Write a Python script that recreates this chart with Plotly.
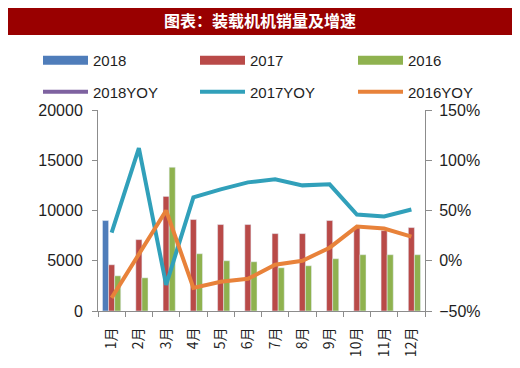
import plotly.graph_objects as go

months = ["1月", "2月", "3月", "4月", "5月", "6月", "7月", "8月", "9月", "10月", "11月", "12月"]
sales_2018 = [9000, None, None, None, None, None, None, None, None, None, None, None]
sales_2017 = [4600, 7100, 11400, 9100, 8600, 8600, 7700, 7700, 9000, 8300, 8000, 8300]
sales_2016 = [3500, 3300, 14300, 5700, 5000, 4900, 4300, 4500, 5200, 5600, 5600, 5600]
yoy_2018 = [None] * 12
yoy_2017 = [28, 112, -24, 63, 71, 78, 81, 75, 76, 46, 44, 51]
yoy_2016 = [-37, 6, 50, -27, -21, -18, -4, 0, 13, 34, 32, 24]

C18, C17, C16 = "#4F7DBA", "#B94A48", "#8FB24F"
CY18, CY17, CY16 = "#7E62A0", "#31A0BA", "#E8823A"
AX = "#8C8C8C"
FONT = "Liberation Sans"
TXT = "#1E1E1E"

# page body has an 8px margin, so the figure is laid out 8px smaller
W, H = 512, 360
L, R, T, B = 90, 95, 102, 57
PW, PH = W - L - R, H - T - B

fig = go.Figure()
legends = ["legend", "legend2", "legend3"]
for i, (name, vals, col) in enumerate([("2018", sales_2018, C18), ("2017", sales_2017, C17),
                                       ("2016", sales_2016, C16)]):
    fig.add_trace(go.Bar(x=months, y=vals, name=name, marker_color=col, showlegend=False))
    # legend entry drawn as a wide swatch
    fig.add_trace(go.Scatter(x=[None], y=[None], name=name, mode="lines",
                             line=dict(color=col, width=9), legendgroup="b" + name,
                             legend=legends[i]))

for i, (name, vals, col) in enumerate([("2018YOY", yoy_2018, CY18), ("2017YOY", yoy_2017, CY17),
                                       ("2016YOY", yoy_2016, CY16)]):
    fig.add_trace(go.Scatter(x=months, y=vals, name=name, mode="lines", yaxis="y2",
                             line=dict(color=col, width=4), legendgroup="l" + name,
                             legend=legends[i]))


def leg(px_x):
    return dict(orientation="v", xanchor="left", yanchor="top",
                x=(px_x - L) / PW, y=(H - B - 36) / PH,
                traceorder="grouped", tracegroupgap=9, itemwidth=45,
                font=dict(size=15, color=TXT), bgcolor="rgba(0,0,0,0)", borderwidth=0)


fig.update_layout(
    width=W, height=H,
    margin=dict(l=L, r=R, t=T, b=B, autoexpand=False),
    paper_bgcolor="white", plot_bgcolor="white",
    barmode="group", bargap=0.33, bargroupgap=0,
    font=dict(family=FONT, size=14, color=TXT),
    title=dict(text="<b>图表：装载机机销量及增速</b>", x=(252 - L) / PW, xanchor="center",
               xref="paper", y=1 - 13 / H, yref="container", yanchor="middle",
               font=dict(family="Noto Sans CJK SC", size=16, color="white")),
    xaxis=dict(showline=True, linecolor=AX, ticks="outside", tickcolor=AX, ticklen=5,
               tickson="boundaries", tickangle=-90, showgrid=False, ticklabelstandoff=10,
               tickfont=dict(family="Noto Sans CJK SC", size=14, color=TXT)),
    yaxis=dict(range=[0, 20000], dtick=5000, tickformat="d", showline=True, linecolor=AX,
               ticks="outside", tickcolor=AX, ticklen=5, showgrid=False, zeroline=False,
               ticklabelstandoff=6, tickfont=dict(size=16, color=TXT)),
    yaxis2=dict(range=[-50, 150], dtick=50, overlaying="y", side="right", showline=True,
                linecolor=AX, ticks="outside", tickcolor=AX, ticklen=6, showgrid=False,
                zeroline=False, ticksuffix="%", ticklabelstandoff=4,
                tickfont=dict(size=16, color=TXT)),
    legend=leg(30),
    legend2=leg(187),
    legend3=leg(345),
    shapes=[dict(type="rect", xref="paper", yref="paper",
                 x0=-L / PW, x1=(W - 3 - L) / PW, y0=(H - B - 27) / PH, y1=(H - B + 2) / PH,
                 fillcolor="#990000", line=dict(width=0), layer="below")],
)

fig.write_html("out.html")
